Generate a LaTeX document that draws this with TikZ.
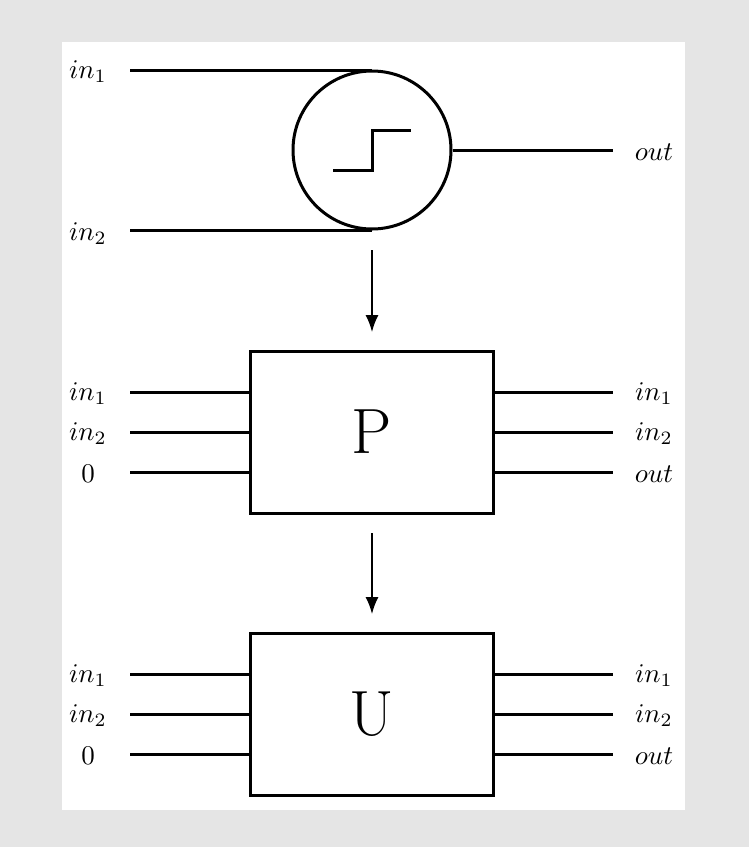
\documentclass[tikz,border=0pt]{standalone}
\usetikzlibrary{arrows.meta}
\begin{document}
\begin{tikzpicture}[x=1pt,y=-1pt,
  wire/.style={line width=3pt},
  lbl/.style={scale=2.7,transform shape,inner sep=0pt},
  blk/.style={draw,line width=3pt,minimum width=243pt,minimum height=162pt,inner sep=0pt,font=\fontsize{64}{70}\selectfont},
  flow/.style={line width=1.5pt,-{Latex[length=17pt,width=13pt]}}]
\fill[gray!20] (0,0) rectangle (749,847);
\fill[white] (62,42) rectangle (685,810);
\node[circle,draw,line width=3pt,minimum size=158pt,inner sep=0pt] (c) at (372,150) {};
\draw[wire] (333,170) -- (372,170) -- (372,130) -- (411,130);
\node[lbl] (a1) at (88,72) {$in_1$};
\node[lbl] (a2) at (88,234) {$in_2$};
\node[lbl] (ao) at (654,152) {$out$};
\coordinate (t1) at (372,70); \coordinate (t2) at (372,230);
\draw[wire] (130,70) -- (t1);
\draw[wire] (130,230) -- (t2);
\draw[wire] (c.east) -- (613,150);
\node[blk] (P) at (371.5,432) {P};
\node[blk] (U) at (371.5,714) {U};
\draw[flow] (372,250) -- (372,332);
\draw[flow] (372,533) -- (372,614);
\foreach \b/\yy in {P/432,U/714}{
  \foreach \d/\t/\s in {-40/{$in_1$}/{$in_1$},0/{$in_2$}/{$in_2$},40/{$0$}/{$out$}}{
    \draw[wire] (130,\yy+\d) -- (250,\yy+\d);
    \draw[wire] (493,\yy+\d) -- (613,\yy+\d);
    \node[lbl] at (88,\yy+\d+2) {\t};
    \node[lbl] at (654,\yy+\d+2) {\s};
  }
}
\end{tikzpicture}
\end{document}
